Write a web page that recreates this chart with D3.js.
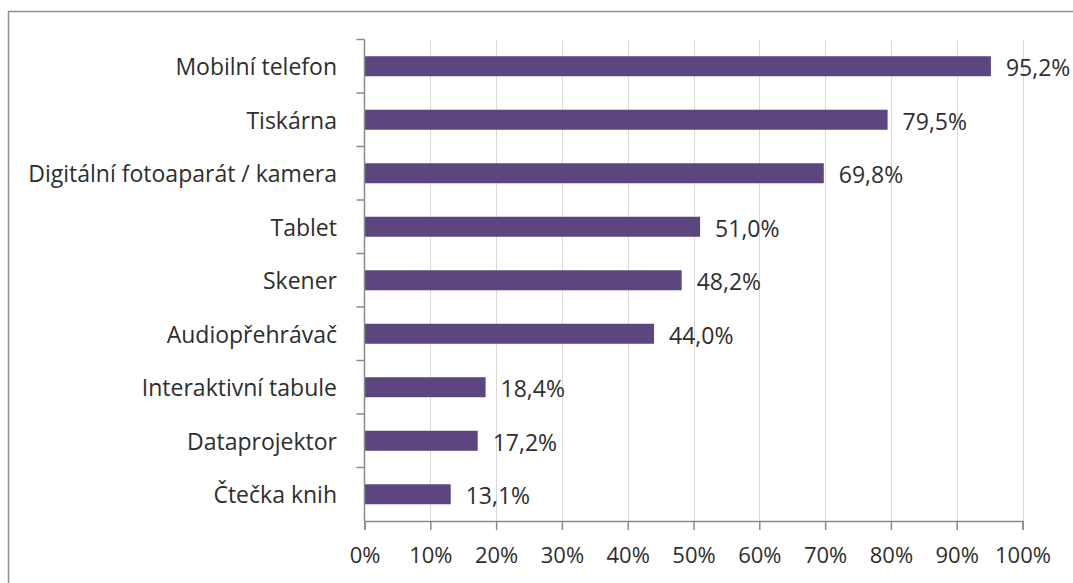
<!DOCTYPE html>
<html>
<head>
<meta charset="utf-8">
<script src="https://cdn.jsdelivr.net/npm/d3@7"></script>
<style>
  html, body { margin: 0; padding: 0; background: #ffffff; }
  svg { display: block; }
  text { font-family: "Open Sans", "Noto Sans", sans-serif; fill: #2e2e2e; }
</style>
</head>
<body>
<svg id="chart" width="1073" height="583"></svg>
<script>
// Devices owned (share of respondents, %)
const categories = [
  "Mobilní telefon",
  "Tiskárna",
  "Digitální fotoaparát / kamera",
  "Tablet",
  "Skener",
  "Audiopřehrávač",
  "Interaktivní tabule",
  "Dataprojektor",
  "Čtečka knih"
];
const values = [95.2, 79.5, 69.8, 51.0, 48.2, 44.0, 18.4, 17.2, 13.1];
const tickValues = [0, 10, 20, 30, 40, 50, 60, 70, 80, 90, 100];

const svg = d3.select("#chart");

// chart frame
svg.append("rect")
  .attr("x", 8.5).attr("y", 11.5)
  .attr("width", 1200).attr("height", 700)
  .attr("fill", "#ffffff")
  .attr("stroke", "#8f8f8f")
  .attr("stroke-width", 1.5);

const plot = { left: 364.5, right: 1022.5, top: 39.5, bottom: 521 };

const x = d3.scaleLinear().domain([0, 100]).range([plot.left, plot.right]);
const yb = d3.scaleBand().domain(categories).range([plot.top, plot.bottom]);
const barH = 20;

const fmt = v => d3.format(".1f")(v).replace(".", ",") + "%";

// vertical gridlines
svg.append("g")
  .selectAll("line")
  .data(tickValues.filter(t => t > 0))
  .join("line")
  .attr("x1", d => Math.round(x(d)) + 0.5)
  .attr("x2", d => Math.round(x(d)) + 0.5)
  .attr("y1", plot.top)
  .attr("y2", plot.bottom)
  .attr("stroke", "#d9d9d9")
  .attr("stroke-width", 1);

// bars
svg.append("g")
  .selectAll("rect")
  .data(categories)
  .join("rect")
  .attr("x", x(0))
  .attr("y", d => yb(d) + yb.bandwidth() / 2 - barH / 2)
  .attr("width", (d, i) => x(values[i]) - x(0))
  .attr("height", barH)
  .attr("fill", "#5d467f");

// value labels
svg.append("g")
  .selectAll("text")
  .data(categories)
  .join("text")
  .attr("x", (d, i) => x(values[i]) + 15)
  .attr("y", d => yb(d) + yb.bandwidth() / 2 + 2)
  .attr("dy", "0.35em")
  .attr("font-size", 23)
  .text((d, i) => fmt(values[i]));

// x axis
const xAxis = svg.append("g")
  .attr("transform", `translate(0,${plot.bottom})`)
  .call(d3.axisBottom(x).tickValues(tickValues).tickFormat(d => d + "%").tickSize(9).tickPadding(17));
xAxis.select(".domain").attr("stroke", "#8a8a8a").attr("stroke-width", 1.5);
xAxis.selectAll(".tick line").attr("stroke", "#8a8a8a").attr("stroke-width", 1.5);
xAxis.selectAll(".tick text")
  .attr("font-family", "\"Open Sans\", \"Noto Sans\", sans-serif")
  .attr("font-size", 22)
  .attr("fill", "#2e2e2e");

// y axis with ticks on category boundaries
const yAxisG = svg.append("g");
yAxisG.append("line")
  .attr("x1", plot.left).attr("x2", plot.left)
  .attr("y1", plot.top).attr("y2", plot.bottom)
  .attr("stroke", "#8a8a8a").attr("stroke-width", 1.5);
yAxisG.selectAll("line.tk")
  .data(categories)
  .join("line")
  .attr("class", "tk")
  .attr("x1", plot.left - 8).attr("x2", plot.left)
  .attr("y1", d => yb(d))
  .attr("y2", d => yb(d))
  .attr("stroke", "#8a8a8a").attr("stroke-width", 1.5);

// category labels
svg.append("g")
  .selectAll("text")
  .data(categories)
  .join("text")
  .attr("x", 337)
  .attr("y", d => yb(d) + yb.bandwidth() / 2 + 1)
  .attr("dy", "0.35em")
  .attr("text-anchor", "end")
  .attr("font-size", 23)
  .text(d => d);
</script>
</body>
</html>
